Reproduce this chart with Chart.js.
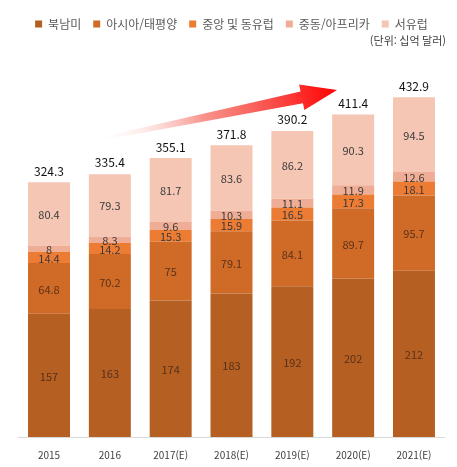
<!DOCTYPE html>
<html lang="ko">
<head>
  <meta charset="UTF-8" />
  <title>지역별 시장 규모</title>
  <script src="https://cdn.jsdelivr.net/npm/chart.js"></script>
  <style>
    html, body { margin: 0; padding: 0; background: #fff; }
    #wrap { width: 457px; height: 467px; }
  </style>
</head>
<body>
  <div id="wrap"><canvas id="marketChart" width="457" height="467"></canvas></div>

  <script>
    // 연도 (E = 전망치)
    const years = ["2015", "2016", "2017(E)", "2018(E)", "2019(E)", "2020(E)", "2021(E)"];

    // 지역별 값 (단위: 십억 달러)
    const northAmerica = [157, 163, 174, 183, 192, 202, 212];
    const asiaPacific  = [64.8, 70.2, 75, 79.1, 84.1, 89.7, 95.7];
    const centralEastEurope = [14.4, 14.2, 15.3, 15.9, 16.5, 17.3, 18.1];
    const middleEastAfrica  = [8, 8.3, 9.6, 10.3, 11.1, 11.9, 12.6];
    const westernEurope = [80.4, 79.3, 81.7, 83.6, 86.2, 90.3, 94.5];
    const totals = [324.3, 335.4, 355.1, 371.8, 390.2, 411.4, 432.9];

    const FONT = "'Noto Sans CJK KR', 'Noto Sans', sans-serif";

    // 막대 안 숫자, 막대 위 합계, 단위, 화살표
    const labelPlugin = {
      id: "labels",
      beforeDatasetsDraw(chart) {
        // 증가 추세 화살표 (장식)
        const ctx = chart.ctx;
        const tail = { x: 95, y: 140 }, tip = { x: 337, y: 90 };
        const dx = tip.x - tail.x, dy = tip.y - tail.y;
        const len = Math.hypot(dx, dy);
        const ux = dx / len, uy = dy / len, nx = -uy, ny = ux;
        const headLen = 36, headW = 13, shaftEnd = 6, shaftStart = 1.5;
        const bx = tip.x - ux * headLen, by = tip.y - uy * headLen;
        const grad = ctx.createLinearGradient(tail.x, tail.y, tip.x, tip.y);
        grad.addColorStop(0, "rgba(255,255,255,0)");
        grad.addColorStop(0.45, "rgba(245,120,110,0.8)");
        grad.addColorStop(1, "#ff0000");
        ctx.save();
        ctx.beginPath();
        ctx.moveTo(tail.x + nx * shaftStart, tail.y + ny * shaftStart);
        ctx.lineTo(bx + nx * shaftEnd, by + ny * shaftEnd);
        ctx.lineTo(bx + nx * headW, by + ny * headW);
        ctx.lineTo(tip.x, tip.y);
        ctx.lineTo(bx - nx * headW, by - ny * headW);
        ctx.lineTo(bx - nx * shaftEnd, by - ny * shaftEnd);
        ctx.lineTo(tail.x - nx * shaftStart, tail.y - ny * shaftStart);
        ctx.closePath();
        ctx.fillStyle = grad;
        ctx.fill();
        ctx.restore();
      },
      afterDatasetsDraw(chart) {
        const ctx = chart.ctx;
        const yScale = chart.scales.y;
        ctx.save();
        ctx.textAlign = "center";
        ctx.textBaseline = "middle";
        ctx.font = "11px " + FONT;
        chart.data.datasets.forEach((ds, di) => {
          const meta = chart.getDatasetMeta(di);
          meta.data.forEach((bar, i) => {
            ctx.fillStyle = di < 2 ? "rgba(70,40,25,0.85)" : "#3a3a3a";
            ctx.fillText(String(ds.data[i]), bar.x, (bar.y + bar.base) / 2 + 1);
          });
        });
        ctx.font = "12px " + FONT;
        ctx.fillStyle = "#111";
        const meta0 = chart.getDatasetMeta(0);
        totals.forEach((t, i) => {
          ctx.fillText(t.toFixed(1), meta0.data[i].x, yScale.getPixelForValue(t) - 11);
        });
        ctx.textAlign = "right";
        ctx.font = "11px " + FONT;
        ctx.fillStyle = "#404040";
        ctx.fillText("(단위: 십억 달러)", 446, 41);
        ctx.restore();
      }
    };

    const ctx = document.getElementById("marketChart").getContext("2d");
    new Chart(ctx, {
      type: "bar",
      data: {
        labels: years,
        datasets: [
          { label: "북남미", data: northAmerica, backgroundColor: "#B55F22" },
          { label: "아시아/태평양", data: asiaPacific, backgroundColor: "#D06A27" },
          { label: "중앙 및 동유럽", data: centralEastEurope, backgroundColor: "#EC7B34" },
          { label: "중동/아프리카", data: middleEastAfrica, backgroundColor: "#F0AD95" },
          { label: "서유럽", data: westernEurope, backgroundColor: "#F5C6B4" }
        ]
      },
      options: {
        responsive: false,
        animation: false,
        layout: { padding: { top: 6, left: 18.6, right: 12.6, bottom: 0 } },
        datasets: { bar: { categoryPercentage: 1, barPercentage: 0.69 } },
        plugins: {
          legend: {
            position: "top",
            labels: {
              boxWidth: 7,
              boxHeight: 7,
              padding: 12,
              color: "#595959",
              font: { family: FONT, size: 12 }
            }
          },
          tooltip: { enabled: false }
        },
        scales: {
          x: {
            stacked: true,
            grid: { display: false, drawTicks: false },
            border: { display: true, color: "#d9d9d9" },
            ticks: { color: "#404040", padding: 12, font: { family: FONT, size: 10 } },
            afterFit(scale) { scale.height = 30; }
          },
          y: {
            stacked: true,
            display: false,
            min: 0,
            max: 506
          }
        }
      },
      plugins: [labelPlugin]
    });
  </script>
</body>
</html>
